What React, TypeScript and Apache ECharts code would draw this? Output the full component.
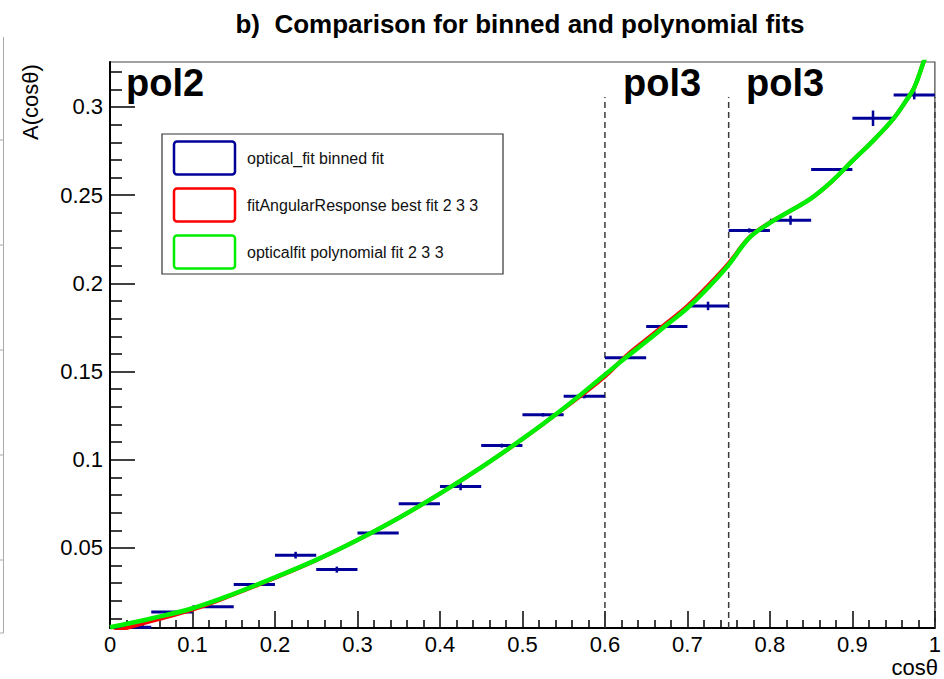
import React, { useEffect, useRef } from "react";
import * as echarts from "echarts";

// Binned optical fit: bin centres, bin contents and their errors
const binCenters = [
  0.025, 0.075, 0.125, 0.175, 0.225, 0.275, 0.325, 0.375, 0.425, 0.475,
  0.525, 0.575, 0.625, 0.675, 0.725, 0.775, 0.825, 0.875, 0.925, 0.975,
];
const binValues = [
  0.005, 0.0137, 0.0167, 0.0292, 0.0459, 0.0377, 0.0585, 0.075, 0.0848, 0.108,
  0.1255, 0.136, 0.1578, 0.1755, 0.1872, 0.23, 0.2358, 0.2645, 0.2936, 0.3068,
];
const binErrors = [
  0, 0, 0, 0, 0.0019, 0.0017, 0, 0, 0.0021, 0.0011,
  0.001, 0.0012, 0, 0, 0.0024, 0.0012, 0.0026, 0.0008, 0.0044, 0.0025,
];
const binHalfWidth = 0.025;

// Fitted curves sampled along cosθ
const curveX = [
  0, 0.05, 0.1, 0.15, 0.2, 0.25, 0.3, 0.35, 0.4, 0.45, 0.5, 0.55, 0.6, 0.625,
  0.65, 0.675, 0.7, 0.725, 0.75, 0.775, 0.8, 0.825, 0.85, 0.875, 0.9, 0.925,
  0.95, 0.965, 0.975, 0.985, 0.995,
];
const polyFitY = [
  0.005, 0.01, 0.0158, 0.024, 0.0333, 0.0432, 0.0545, 0.067, 0.0808, 0.0957,
  0.1118, 0.1292, 0.1482, 0.1578, 0.167, 0.1765, 0.186, 0.1975, 0.2105, 0.2258,
  0.2343, 0.2412, 0.2482, 0.2578, 0.2695, 0.2808, 0.2935, 0.3035, 0.311, 0.3238,
  0.337,
];
const bestFitY = [
  0.002, 0.0085, 0.015, 0.0236, 0.033, 0.0431, 0.0545, 0.067, 0.0808, 0.0957,
  0.1117, 0.1289, 0.1472, 0.1586, 0.1681, 0.1776, 0.1872, 0.1987, 0.2114, 0.226,
  0.2345, 0.2412, 0.2482, 0.2578, 0.2695, 0.2808, 0.2935, 0.3035, 0.311, 0.3238,
  0.337,
];

// Boundaries between polynomial ranges
const rangeEdges = [0.6, 0.75, 1.0];
const rangeLabels = ["pol2", "pol3", "pol3"];

const xTicks = [0, 0.1, 0.2, 0.3, 0.4, 0.5, 0.6, 0.7, 0.8, 0.9, 1];
const yTicks = [0.05, 0.1, 0.15, 0.2, 0.25, 0.3];
const yMinorTicks = [
  0.01, 0.02, 0.03, 0.04, 0.06, 0.07, 0.08, 0.09, 0.11, 0.12, 0.13, 0.14,
  0.16, 0.17, 0.18, 0.19, 0.21, 0.22, 0.23, 0.24, 0.26, 0.27, 0.28, 0.29,
  0.31, 0.32,
];

const legendNames = [
  "optical_fit binned fit",
  "fitAngularResponse best fit 2 3 3",
  "opticalfit polynomial fit 2 3 3",
];

const Y_MIN = 0.0046;
const Y_MAX = 0.3255;
const EDGE_TOP = 0.3057;

const FONT = '"Liberation Sans", Arial, Helvetica, sans-serif';
const NAVY = "#000099";
const RED = "#ff0000";
const GREEN = "#00ee00";

export default function App() {
  const ref = useRef<HTMLDivElement>(null);

  useEffect(() => {
    if (!ref.current) return;
    const chart = echarts.init(ref.current, null, { renderer: "svg" });

    const binData = binCenters.map((c, i) => [c, binValues[i], binErrors[i]]);

    const edgeSeries = rangeEdges.map((e) => ({
      type: "line",
      data: [
        [e, Y_MIN],
        [e, EDGE_TOP],
      ],
      symbol: "none",
      silent: true,
      z: 1,
      lineStyle: { color: "#3a3a3a", width: 1.5, type: [6, 4] },
    }));

    const legendColors = [NAVY, RED, GREEN];
    const legendRowY = [158, 205, 252];

    const legendGraphics: any[] = [
      {
        type: "rect",
        shape: { x: 162, y: 134, width: 341, height: 140 },
        style: { fill: "#fff", stroke: "#333", lineWidth: 1.2 },
        z: 50,
      },
    ];
    legendNames.forEach((name, i) => {
      legendGraphics.push({
        type: "rect",
        shape: { x: 174, y: legendRowY[i] - 16.5, width: 61, height: 33, r: 3 },
        style: { fill: "#fff", stroke: legendColors[i], lineWidth: 2.5 },
        z: 51,
      });
      legendGraphics.push({
        type: "text",
        x: 247,
        y: legendRowY[i],
        style: {
          text: name,
          fontFamily: FONT,
          fontSize: 16,
          fill: "#111",
          align: "left",
          verticalAlign: "middle",
        },
        z: 51,
      });
    });

    const rangeLabelX = [126, 623, 746];

    const option: any = {
      animation: false,
      backgroundColor: "#fff",
      grid: {
        left: 110,
        right: 7,
        top: 62,
        bottom: 51,
        show: true,
        borderColor: "#444",
        borderWidth: 1.2,
        backgroundColor: "transparent",
      },
      xAxis: {
        type: "value",
        min: 0,
        max: 1,
        interval: 0.1,
        axisLine: { show: true, lineStyle: { color: "#000", width: 2 } },
        axisTick: { show: true, inside: true, length: 17, lineStyle: { color: "#000", width: 1.5 } },
        minorTick: { show: true, splitNumber: 5, length: 8, lineStyle: { color: "#000", width: 1.5 } },
        splitLine: { show: false },
        axisLabel: {
          show: true,
          margin: 5,
          fontFamily: FONT,
          fontSize: 22,
          color: "#000",
          showMinLabel: true,
          showMaxLabel: true,
          hideOverlap: false,
          formatter: (v: number) => {
            const t = xTicks.find((k) => Math.abs(k - v) < 1e-9);
            return t === undefined ? "" : String(t);
          },
        },
      },
      yAxis: [
        {
          type: "value",
          min: Y_MIN,
          max: Y_MAX,
          axisLine: { show: true, lineStyle: { color: "#000", width: 2 } },
          axisTick: {
            show: true,
            inside: true,
            length: 25,
            customValues: yTicks,
            lineStyle: { color: "#000", width: 1.5 },
          },
          splitLine: { show: false },
          axisLabel: {
            show: true,
            margin: 7,
            customValues: yTicks,
            fontFamily: FONT,
            fontSize: 22,
            color: "#000",
          },
        },
        {
          type: "value",
          min: Y_MIN,
          max: Y_MAX,
          position: "left",
          axisLine: { show: false },
          axisTick: {
            show: true,
            inside: true,
            length: 12,
            customValues: yMinorTicks,
            lineStyle: { color: "#000", width: 1.5 },
          },
          splitLine: { show: false },
          axisLabel: { show: false },
        },
      ],
      series: [
        ...edgeSeries,
        {
          type: "custom",
          name: legendNames[0],
          data: binData,
          z: 2,
          renderItem: (params: any, api: any) => {
            const c = api.value(0);
            const v = api.value(1);
            const e = api.value(2);
            const a = api.coord([c - binHalfWidth, v]);
            const b = api.coord([c + binHalfWidth, v]);
            const children: any[] = [
              {
                type: "line",
                shape: { x1: a[0], y1: a[1], x2: b[0], y2: b[1] },
                style: { stroke: NAVY, lineWidth: 3 },
              },
            ];
            if (e > 0) {
              const t = api.coord([c, v + e]);
              const d = api.coord([c, v - e]);
              children.push({
                type: "line",
                shape: { x1: t[0], y1: t[1], x2: d[0], y2: d[1] },
                style: { stroke: NAVY, lineWidth: 2.5 },
              });
            }
            return { type: "group", children };
          },
        },
        {
          type: "line",
          name: legendNames[1],
          data: curveX.map((x, i) => [x, bestFitY[i]]),
          smooth: 0.4,
          symbol: "none",
          clip: true,
          z: 3,
          lineStyle: { color: RED, width: 4 },
        },
        {
          type: "line",
          name: legendNames[2],
          data: curveX.map((x, i) => [x, polyFitY[i]]),
          smooth: 0.4,
          symbol: "none",
          clip: true,
          z: 4,
          lineStyle: { color: GREEN, width: 4.5 },
        },
      ],
      graphic: [
        // edge of the neighbouring pad
        {
          type: "line",
          shape: { x1: 3.5, y1: 37, x2: 3.5, y2: 633 },
          style: { stroke: "#aaa", lineWidth: 1 },
        },
        ...[140, 245, 350, 455, 560, 633].map((y) => ({
          type: "line",
          shape: { x1: 0, y1: y, x2: 3.5, y2: y },
          style: { stroke: "#aaa", lineWidth: 1 },
        })),
        {
          type: "text",
          x: 520,
          y: 23.5,
          style: {
            text: "b)  Comparison for binned and polynomial fits",
            fontFamily: FONT,
            fontWeight: "bold",
            fontSize: 26,
            fill: "#000",
            align: "center",
            verticalAlign: "middle",
          },
        },
        ...rangeLabels.map((t, i) => ({
          type: "text",
          x: rangeLabelX[i],
          y: 83,
          z: 60,
          style: {
            text: t,
            fontFamily: FONT,
            fontWeight: "bold",
            fontSize: 38,
            fill: "#000",
            align: "left",
            verticalAlign: "middle",
          },
        })),
        {
          type: "text",
          x: 30,
          y: 102,
          rotation: Math.PI / 2,
          style: {
            text: "A(cosθ)",
            fontFamily: FONT,
            fontSize: 22,
            fill: "#000",
            align: "center",
            verticalAlign: "middle",
          },
        },
        {
          type: "text",
          x: 938,
          y: 667,
          style: {
            text: "cosθ",
            fontFamily: FONT,
            fontSize: 22,
            fill: "#000",
            align: "right",
            verticalAlign: "middle",
          },
        },
        ...legendGraphics,
      ],
    };

    chart.setOption(option);
    return () => chart.dispose();
  }, []);

  return (
    <div
      ref={ref}
      style={{ position: "fixed", left: 0, top: 0, width: 944, height: 679, background: "#fff" }}
    />
  );
}
